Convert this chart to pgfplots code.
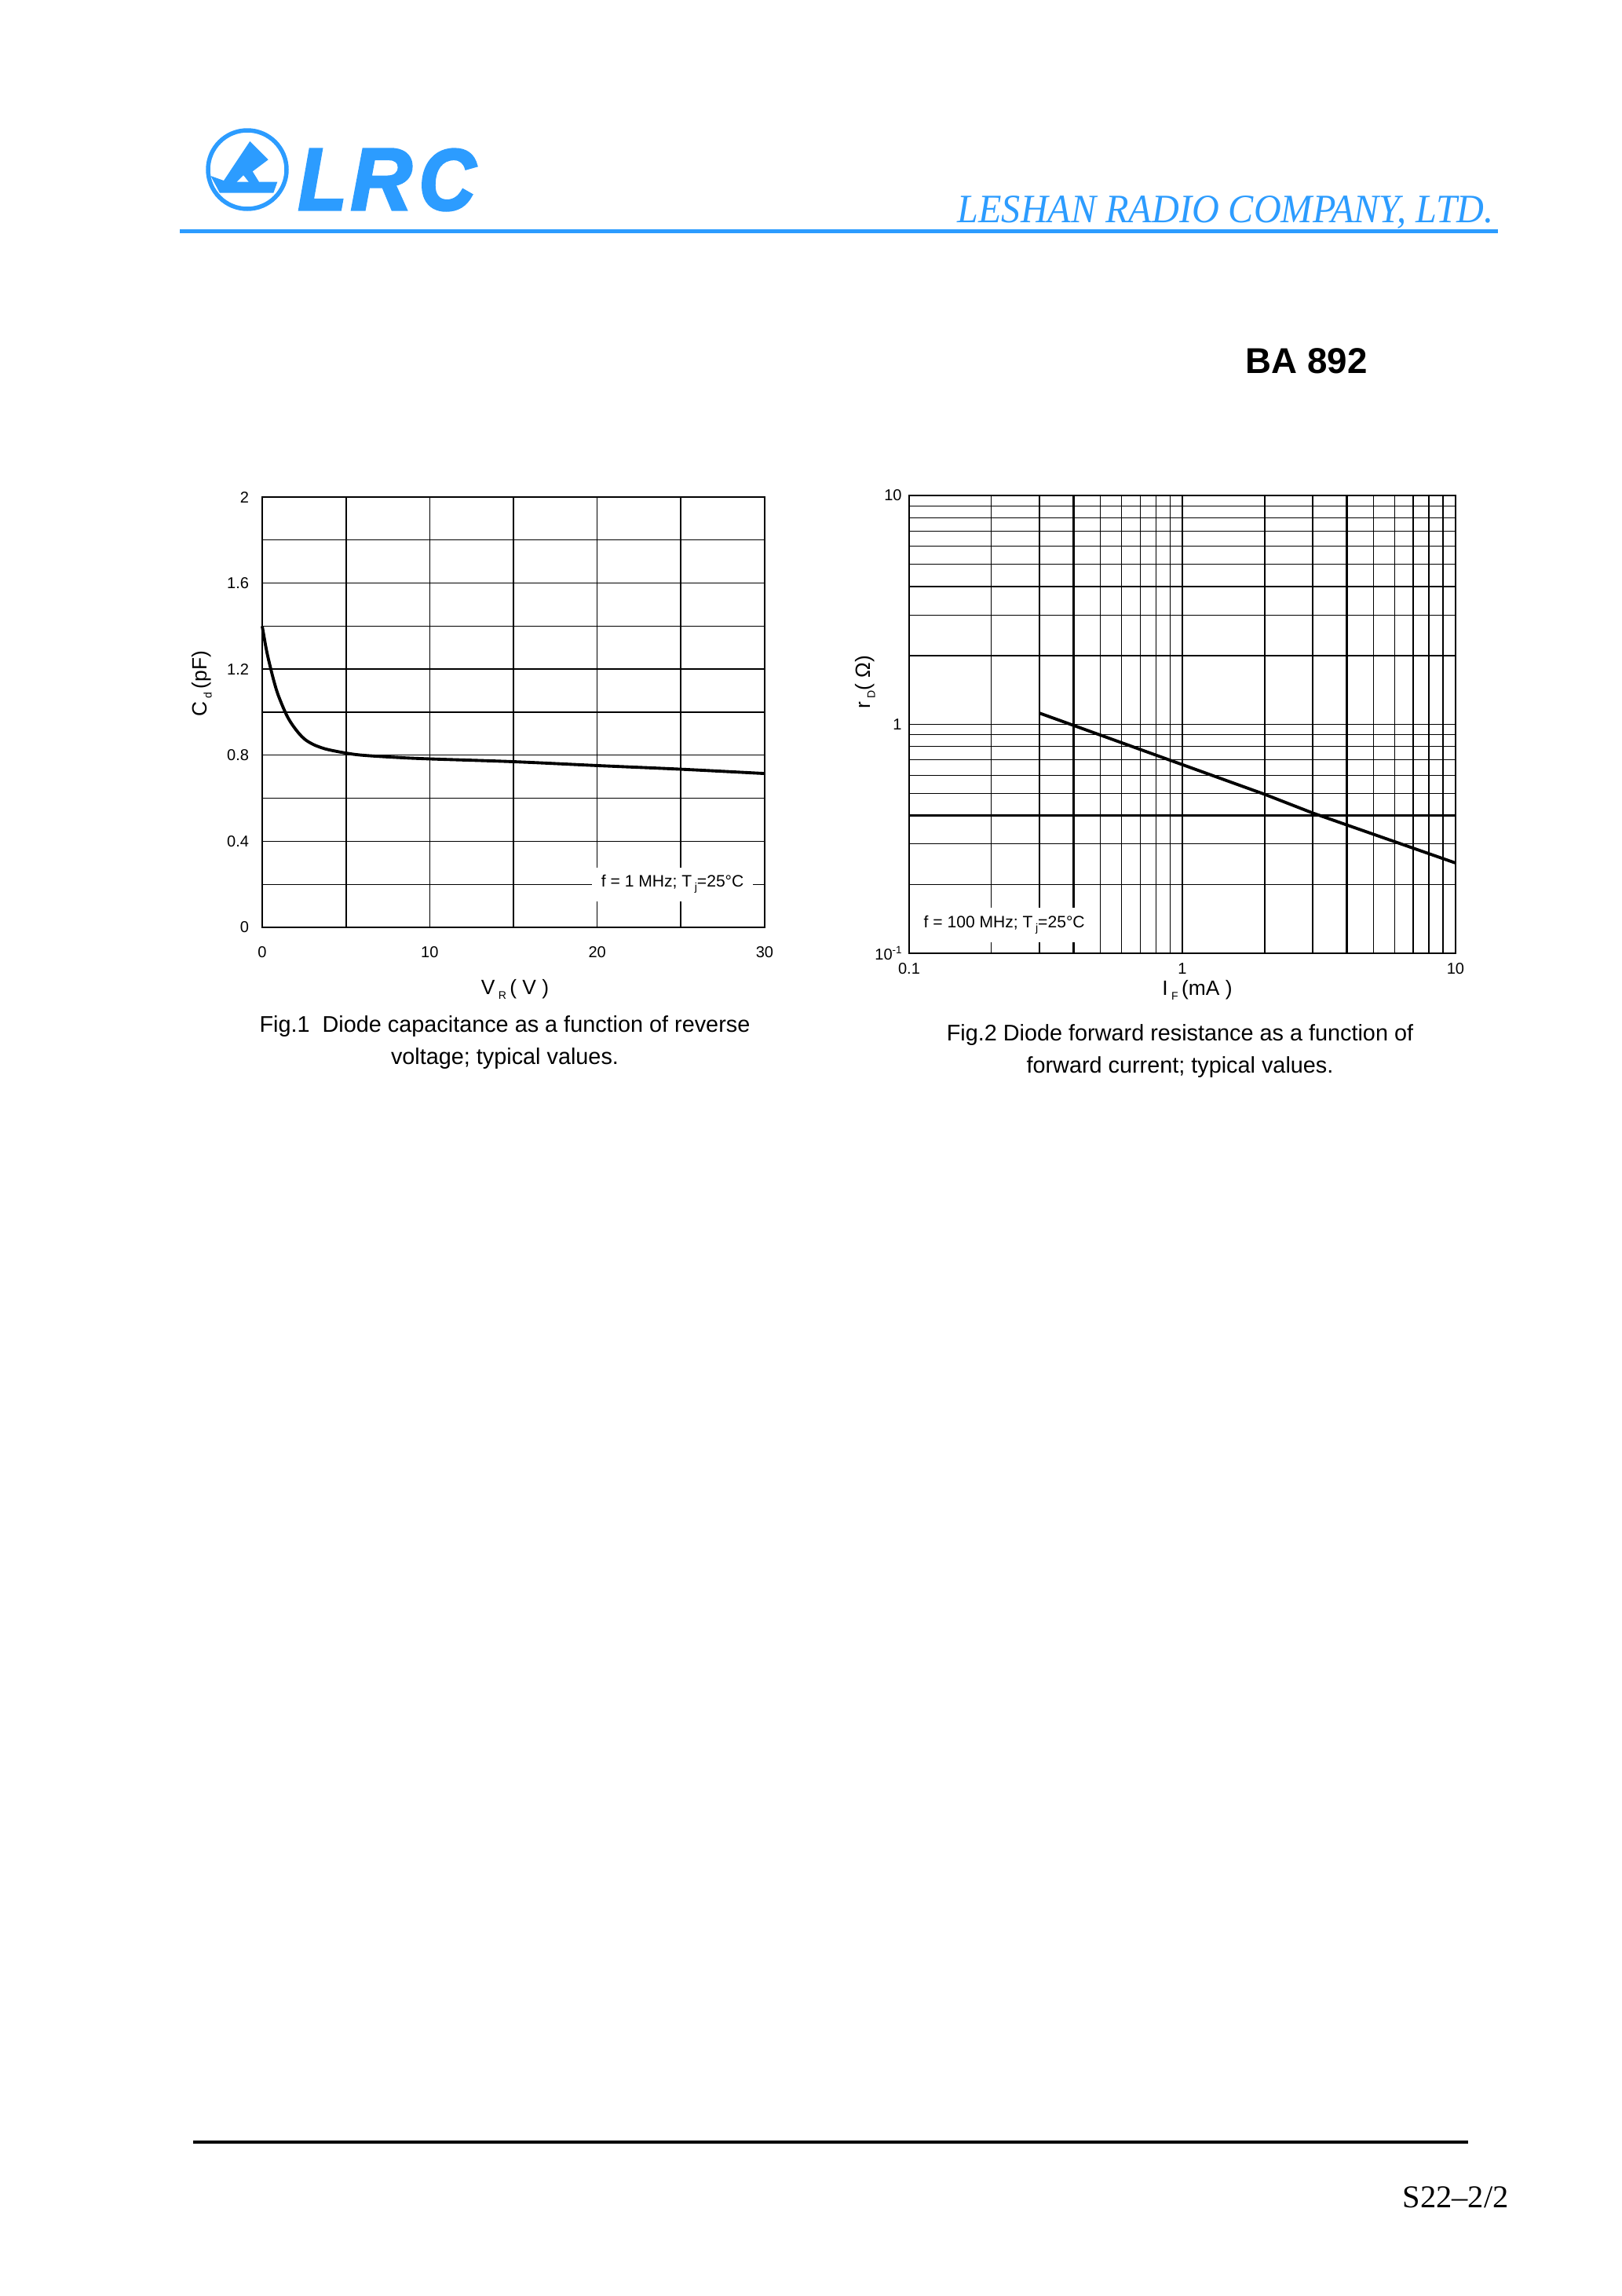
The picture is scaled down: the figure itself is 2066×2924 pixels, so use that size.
\documentclass[border=0pt]{standalone}
\usepackage{pgfplots}
\pgfplotsset{compat=1.18}
\usepackage{fontspec}
\setmainfont{Liberation Sans}
\newfontfamily\timesfont{Liberation Serif}
\newfontfamily\lrcfont[BoldItalicFeatures={FakeBold=3}]{Liberation Sans}
\definecolor{lrcblue}{RGB}{44,156,255}
\newcommand{\sub}[1]{\raisebox{-0.45ex}{\fontsize{4}{4}\selectfont #1}}
\newcommand{\capfont}{\fontsize{8.2}{10}\selectfont}
\newcommand{\labfont}{\fontsize{7.5}{9}\selectfont}
\newcommand{\annfont}{\fontsize{6}{7}\selectfont}
\begin{document}
\begin{tikzpicture}[x=0.1mm,y=-0.1mm]
\fill[white] (0,0) rectangle (2066,2924);
\path[use as bounding box] (0,0) rectangle (2066,2924);

% ---------- header ----------
\draw[lrcblue, line width=0.55mm] (315,216) circle [radius=50];
\fill[lrcblue] (318.3,180) -- (341.7,203.3) -- (321.7,218.3) -- (330,231.7) -- (353.3,231.7)
  -- (348.3,245.7) -- (280,245.7) -- (268.3,224) -- (285,230) -- cycle;
\fill[white] (301.7,231.7) -- (310,223.3) -- (316.7,231.7) -- cycle;
\node[anchor=base west, inner sep=0, lrcblue] at (379,267) {\resizebox{6.2mm}{7.7mm}{\lrcfont\bfseries\itshape L}};
\node[anchor=base west, inner sep=0, lrcblue] at (446,267) {\resizebox{7.8mm}{7.7mm}{\lrcfont\bfseries\itshape R}};
\node[anchor=base west, inner sep=0, lrcblue] at (533,267) {\resizebox{7.2mm}{7.7mm}{\lrcfont\bfseries\itshape C}};
\node[anchor=base west, inner sep=0, lrcblue] at (1219,283) {\resizebox{68.3mm}{3.4mm}{\timesfont\itshape LESHAN RADIO COMPANY, LTD.}};
\draw[lrcblue, line width=0.5mm] (229,294) -- (1908,294);
\node[anchor=base west, inner sep=0] at (1586,475) {\fontsize{13}{15}\selectfont\bfseries BA 892};

% ---------- Fig. 1 ----------
\begin{axis}[at={(33.4mm,-118.1mm)}, anchor=south west,
  width=64mm, height=54.8mm, scale only axis,
  xmin=0, xmax=30, ymin=0, ymax=2,
  xtick={0,10,20,30}, xticklabels={0,10,20,30},
  ytick={0,0.4,0.8,1.2,1.6,2}, yticklabels={0,0.4,0.8,1.2,1.6,2},
  minor xtick={5,15,25}, minor ytick={0.2,0.6,1.0,1.4,1.8},
  grid=both,
  major grid style={black, line width=0.3pt},
  minor grid style={black, line width=0.3pt},
  major tick length=0pt, minor tick length=0pt,
  axis line style={line width=0.6pt},
  ticklabel style={font=\fontsize{5.7}{6}\selectfont},
  xticklabel style={yshift=-1.2mm},
  yticklabel style={xshift=-0.45mm},
  clip=false]
\draw[line width=0.6pt] (axis cs:5,0) -- (axis cs:5,2);
\draw[line width=0.6pt] (axis cs:25,0) -- (axis cs:25,2);
\draw[line width=0.6pt] (axis cs:0,1.2) -- (axis cs:30,1.2);
\addplot[black, line width=1.1pt, smooth, tension=0.6] coordinates {
 (0,1.40) (0.25,1.29) (0.5,1.205) (0.75,1.13) (1,1.07) (1.5,0.98) (2,0.92) (2.5,0.877)
 (3,0.852) (3.5,0.836) (4,0.825) (5,0.81) (6,0.80) (8,0.79) (10,0.783) (15,0.77)
 (20,0.752) (25,0.735) (30,0.715)};
\node[fill=white, inner xsep=1.2mm, inner ysep=1mm] at (axis cs:24.5,0.2)
  {\annfont f = 1 MHz; T\,\sub{j}=25°C};
\end{axis}

% ---------- Fig. 2 ----------
\begin{axis}[at={(115.8mm,-121.4mm)}, anchor=south west,
  width=69.6mm, height=58.3mm, scale only axis,
  xmode=log, ymode=log,
  xmin=0.1, xmax=10, ymin=0.1, ymax=10,
  xtick={0.1,1,10}, xticklabels={0.1,1,10},
  ytick={0.1,1,10}, yticklabels={10\raisebox{0.7ex}{\fontsize{3.8}{4}\selectfont -1},1,10},
  grid=both,
  major grid style={black, line width=0.3pt},
  minor grid style={black, line width=0.3pt},
  major tick length=0pt, minor tick length=0pt,
  axis line style={line width=0.6pt},
  ticklabel style={font=\fontsize{5.7}{6}\selectfont},
  xticklabel style={yshift=0mm},
  yticklabel style={xshift=0.3mm},
  clip=false]
\draw[line width=0.6pt] (axis cs:0.3,0.1) -- (axis cs:0.3,10);
\draw[line width=0.6pt] (axis cs:0.4,0.1) -- (axis cs:0.4,10);
\draw[line width=0.6pt] (axis cs:1,0.1) -- (axis cs:1,10);
\draw[line width=0.6pt] (axis cs:2,0.1) -- (axis cs:2,10);
\draw[line width=0.6pt] (axis cs:3,0.1) -- (axis cs:3,10);
\draw[line width=0.6pt] (axis cs:4,0.1) -- (axis cs:4,10);
\draw[line width=0.6pt] (axis cs:7,0.1) -- (axis cs:7,10);
\draw[line width=0.6pt] (axis cs:8,0.1) -- (axis cs:8,10);
\draw[line width=0.6pt] (axis cs:9,0.1) -- (axis cs:9,10);
\draw[line width=0.6pt] (axis cs:0.1,0.4) -- (axis cs:10,0.4);
\draw[line width=0.6pt] (axis cs:0.1,2) -- (axis cs:10,2);
\addplot[black, line width=1.1pt] coordinates {
 (0.3,1.12) (1,0.667) (2,0.495) (3,0.41) (10,0.248)};
\node[fill=white, inner xsep=0.8mm, inner ysep=1mm] at (axis cs:0.223,0.133)
  {\annfont f = 100 MHz; T\,\sub{j}=25°C};
\end{axis}

% ---------- axis labels ----------
\node[rotate=90] at (257,871) {\labfont C\,\sub{d}\,(pF)};
\node at (656,1260) {\labfont V\,\sub{R}\,( V )};
\node[rotate=90] at (1102,869) {\labfont r\,\sub{D}( Ω)};
\node at (1525,1261) {\labfont I\,\sub{F}\,(mA )};

% ---------- captions ----------
\node[anchor=base, inner sep=0] at (643,1314) {\capfont Fig.1\ \ Diode capacitance as a function of reverse};
\node[anchor=base, inner sep=0] at (643,1355) {\capfont voltage; typical values.};
\node[anchor=base, inner sep=0] at (1503,1325) {\capfont Fig.2 Diode forward resistance as a function of};
\node[anchor=base, inner sep=0] at (1503,1366) {\capfont forward current; typical values.};

% ---------- footer ----------
\draw[line width=0.45mm] (246,2728) -- (1870,2728);
\node[anchor=base west, inner sep=0] at (1786,2811) {\timesfont\fontsize{11.5}{13}\selectfont S22–2/2};
\end{tikzpicture}
\end{document}
